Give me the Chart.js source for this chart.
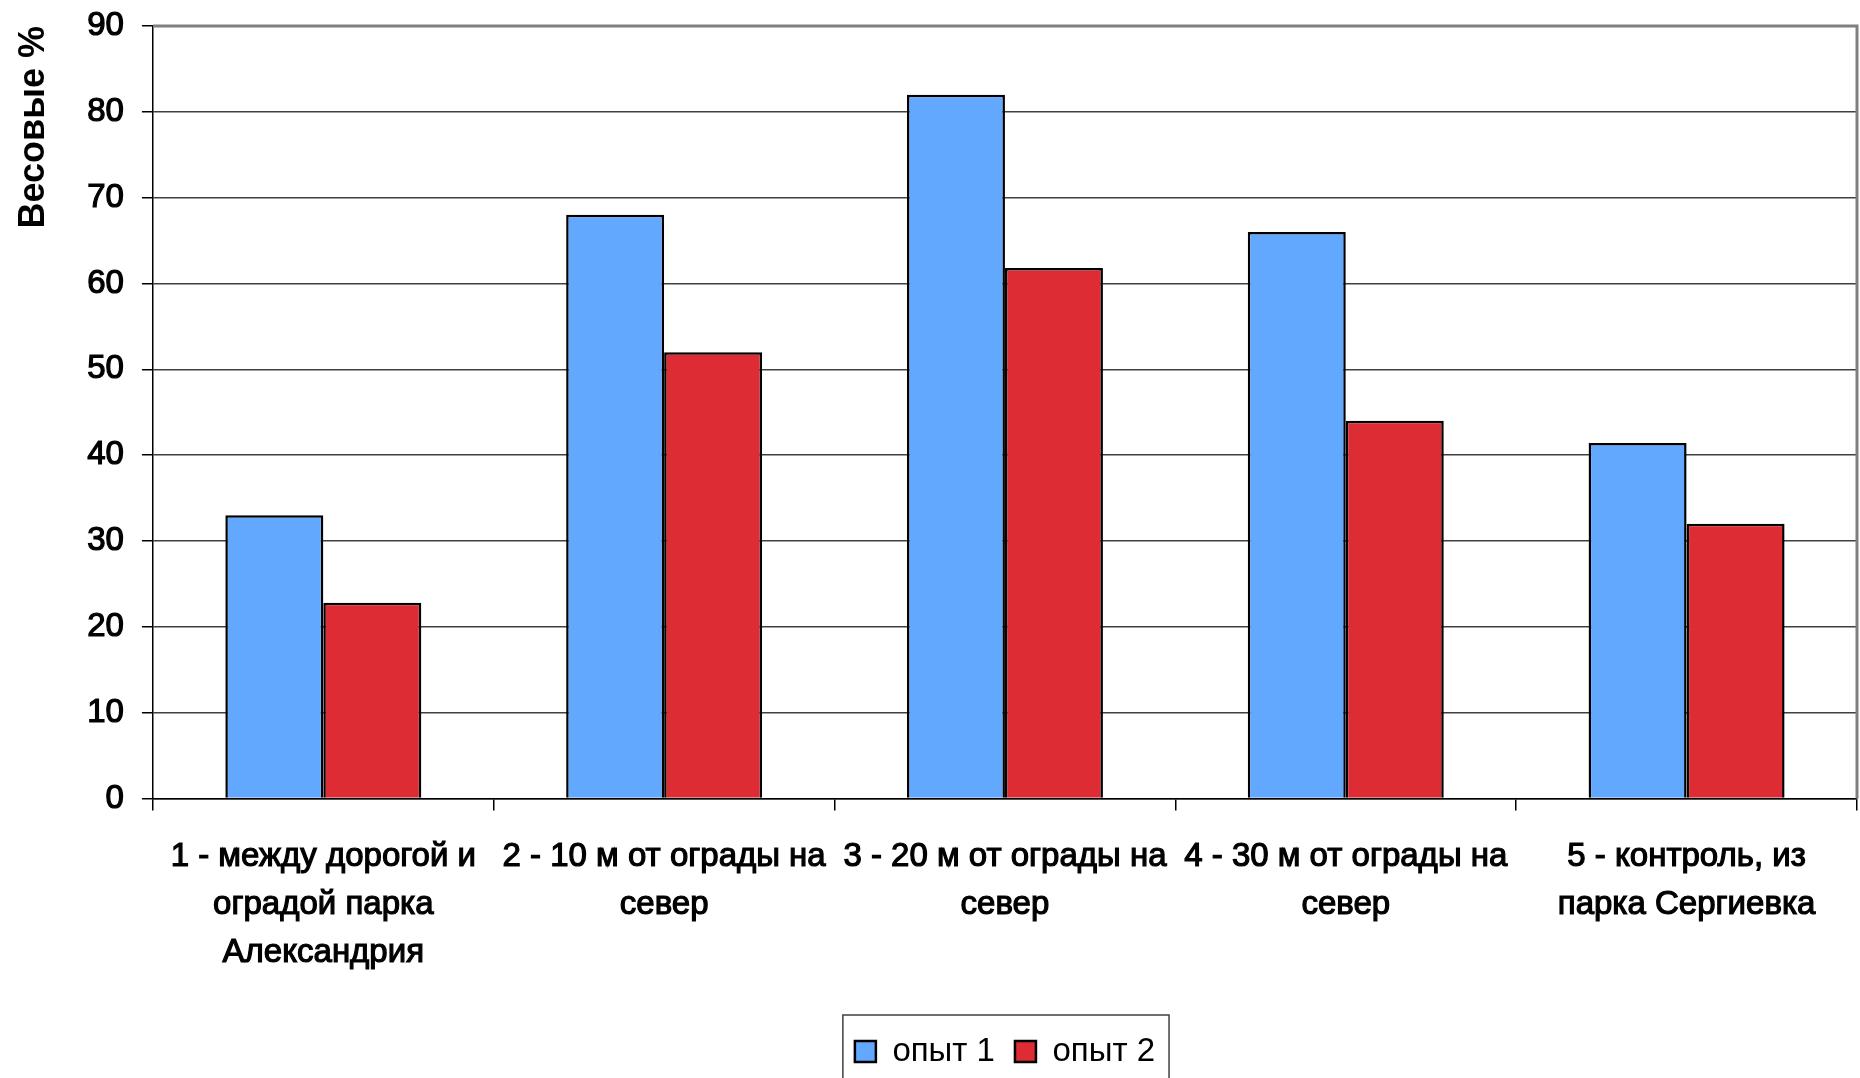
<!DOCTYPE html>
<html>
<head>
  <title>Весовые %</title>
  <style>
    body { margin: 0; background: #fff; }
    #wrap { width: 1860px; height: 1078px; position: relative; }
  </style>
</head>
<body>
  <div id="wrap"><canvas id="chart"></canvas></div>

  <script src="https://cdn.jsdelivr.net/npm/chart.js"></script>
  <script>
    // данные
    const categories = [
      ['1 - между дорогой и', 'оградой парка', 'Александрия'],
      ['2 - 10 м от ограды на', 'север'],
      ['3 - 20 м от ограды на', 'север'],
      ['4 - 30 м от ограды на', 'север'],
      ['5 - контроль, из', 'парка Сергиевка']
    ];
    const seriesNames = ['опыт 1', 'опыт 2'];
    const opyt1 = [33, 68, 82, 66, 41.4];
    const opyt2 = [22.8, 52, 61.8, 44, 32];
    const yTicks = [0, 10, 20, 30, 40, 50, 60, 70, 80, 90];

    const FONT = "'Liberation Sans', Arial, sans-serif";

    // рамка сверху/справа и рамка легенды
    const framePlugin = {
      id: 'frame',
      afterDraw(chart) {
        const ctx = chart.ctx;
        const a = chart.chartArea;
        ctx.save();
        ctx.strokeStyle = '#808080';
        ctx.lineWidth = 3;
        ctx.beginPath();
        ctx.moveTo(a.left, a.top);
        ctx.lineTo(a.right, a.top);
        ctx.lineTo(a.right, a.bottom);
        ctx.stroke();

        const boxes = chart.legend.legendHitBoxes;
        if (boxes && boxes.length) {
          const l = Math.min(...boxes.map(b => b.left)) - 12;
          const r = Math.max(...boxes.map(b => b.left + b.width)) + 14;
          const t = chart.legend.top;
          ctx.strokeStyle = '#404040';
          ctx.lineWidth = 1.5;
          ctx.strokeRect(l, t, r - l, 200);
        }
        ctx.restore();
      }
    };

    new Chart(document.getElementById('chart'), {
      type: 'bar',
      data: {
        labels: categories,
        datasets: [
          { label: seriesNames[0], data: opyt1, backgroundColor: '#62a8ff', borderColor: '#000', borderWidth: 2.5 },
          { label: seriesNames[1], data: opyt2, backgroundColor: '#dd2c33', borderColor: '#000', borderWidth: 2.5 }
        ]
      },
      options: {
        responsive: true,
        maintainAspectRatio: false,
        animation: false,
        layout: { autoPadding: false, padding: { top: 26, left: 0, right: 3, bottom: 0 } },
        datasets: { bar: { barPercentage: 1, categoryPercentage: 0.575 } },
        scales: {
          x: {
            grid: { offset: true, drawOnChartArea: false, drawTicks: true, tickLength: 12, tickColor: '#000', lineWidth: 1.5 },
            border: { color: '#000', width: 1.5 },
            ticks: {
              color: '#000', font: { family: FONT, size: 33, lineHeight: 1.45 },
              textStrokeColor: '#000', textStrokeWidth: 1.2,
              padding: 23, maxRotation: 0, autoSkip: false
            },
            afterFit(scale) { scale.height += 15; }
          },
          y: {
            min: 0,
            max: 90,
            afterBuildTicks(scale) { scale.ticks = yTicks.map(v => ({ value: v })); },
            afterFit(scale) { scale.paddingTop = 0; scale.paddingBottom = 0; },
            grid: { color: '#404040', lineWidth: 1.5, tickLength: 11, tickColor: '#000' },
            border: { color: '#000', width: 1.5 },
            ticks: {
              color: '#000', font: { family: FONT, size: 33, lineHeight: 1 },
              textStrokeColor: '#000', textStrokeWidth: 1.2, padding: 18
            },
            title: {
              display: true,
              text: 'Весовые %',
              align: 'end',
              color: '#000',
              font: { family: FONT, size: 36, weight: 'bold', lineHeight: 1.2 },
              padding: { top: 12, bottom: 14 }
            }
          }
        },
        plugins: {
          legend: {
            position: 'bottom',
            fullSize: false,
            labels: {
              color: '#000',
              font: { family: FONT, size: 33 },
              boxWidth: 21,
              boxHeight: 21,
              padding: 20,
              generateLabels(chart) {
                return chart.data.datasets.map((ds, i) => ({
                  text: ds.label,
                  fillStyle: ds.backgroundColor,
                  strokeStyle: '#000',
                  lineWidth: 2.5,
                  datasetIndex: i,
                  fontColor: '#000'
                }));
              }
            }
          },
          tooltip: { enabled: false }
        }
      },
      plugins: [framePlugin]
    });
  </script>
</body>
</html>
